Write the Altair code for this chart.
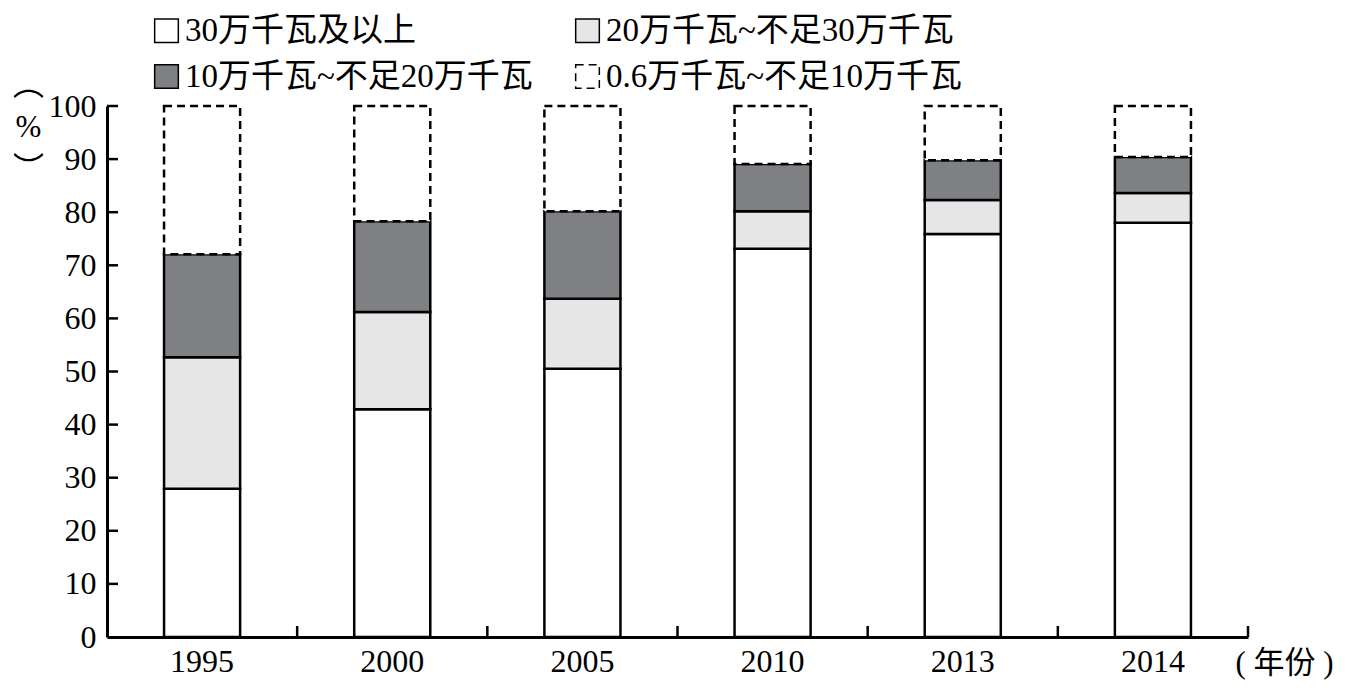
import altair as alt
import pandas as pd

years = ["1995", "2000", "2005", "2010", "2013", "2014"]
cats = ["30万千瓦及以上", "20万千瓦~不足30万千瓦", "10万千瓦~不足20万千瓦", "0.6万千瓦~不足10万千瓦"]
s30 = [27.9, 42.9, 50.5, 73.1, 75.9, 78.0]
s20 = [24.8, 18.3, 13.2, 7.1, 6.4, 5.6]
s10 = [19.4, 17.1, 16.5, 8.9, 7.5, 6.8]
s06 = [27.9, 21.7, 19.8, 10.9, 10.2, 9.6]
y_ticks = [0, 10, 20, 30, 40, 50, 60, 70, 80, 90, 100]
fills = ["#ffffff", "#e6e6e6", "#7f8084", "#ffffff"]
dashes = [[1, 0], [1, 0], [1, 0], [8, 5]]

rows = []
for i, (c, ser) in enumerate(zip(cats, [s30, s20, s10, s06])):
    for y, v in zip(years, ser):
        rows.append({"year": y, "cat": c, "idx": i, "value": v})
df = pd.DataFrame(rows)

# legend order (column-major grid): col1 = 30万 / 10万, col2 = 20万 / 0.6万
leg_order = [0, 2, 1, 3]
leg_dom = [cats[i] for i in leg_order]
leg_fill = [fills[i] for i in leg_order]
leg_dash = [dashes[i] for i in leg_order]

SERIF = "'Liberation Serif', 'Noto Sans CJK SC', serif"

leg = alt.Legend(
    title=None, orient="none", legendX=43, legendY=-92, columns=2,
    columnPadding=38, rowPadding=12, labelOffset=2, labelLimit=600,
    labelFontSize=33, labelFont=SERIF, labelColor="black",
    symbolType="square", symbolSize=560, symbolStrokeWidth=1.5, padding=0,
)

bars = alt.Chart(df).mark_bar(strokeWidth=2.5, width=alt.RelativeBandSize(0.4)).encode(
    x=alt.X("year:N", sort=years, scale=alt.Scale(paddingInner=0, paddingOuter=0),
            axis=alt.Axis(title="( 年份 )", labelAngle=0, tickSize=0, labelPadding=9,
                          labelFontSize=32, labelFont=SERIF, labelColor="black",
                          domainColor="black", domainWidth=3,
                          titleX=1128, titleY=26, titleAlign="left", titleBaseline="middle",
                          titleFontSize=31, titleFont=SERIF, titleFontWeight="normal", titleColor="black")),
    y=alt.Y("value:Q", stack="zero", scale=alt.Scale(domain=[0, 100], nice=False),
            axis=alt.Axis(values=y_ticks, tickSize=0, labelPadding=11, grid=False,
                          labelFontSize=32, labelFont=SERIF, labelColor="black",
                          domainColor="black", domainWidth=3,
                          title=["︵", "%", "︶"], titleAngle=0, titleX=-79, titleY=-36,
                          titleAlign="center", titleBaseline="top", titleLineHeight=42,
                          titleFontSize=31, titleFont=SERIF, titleFontWeight="normal", titleColor="black")),
    fill=alt.Fill("cat:N", scale=alt.Scale(domain=leg_dom, range=leg_fill), legend=leg),
    stroke=alt.Stroke("cat:N", scale=alt.Scale(domain=leg_dom, range=["black"] * 4), legend=leg),
    strokeDash=alt.StrokeDash("cat:N", scale=alt.Scale(domain=leg_dom, range=leg_dash), legend=leg),
    order=alt.Order("idx:Q", sort="ascending"),
)

ytick_df = pd.DataFrame({"t": y_ticks[1:]})
yticks = alt.Chart(ytick_df).mark_rule(color="black", strokeWidth=2.5).encode(
    y=alt.Y("t:Q", axis=None), x=alt.value(0), x2=alt.value(11)
)

xtick_df = pd.DataFrame({"year": years})
xticks = alt.Chart(xtick_df).mark_rule(color="black", strokeWidth=2.5).encode(
    x=alt.X("year:N", sort=years, bandPosition=1, axis=None), y=alt.value(531), y2=alt.value(520)
)

chart = alt.layer(bars, yticks, xticks).resolve_axis(
    x="independent", y="independent"
).properties(
    width=1141, height=531, background="white",
    autosize=alt.AutoSizeParams(type="none"),
    padding={"left": 99, "top": 98, "right": 94, "bottom": 48},
).configure_view(stroke=None)

chart.save("out.html", embed_options={"renderer": "svg", "actions": False})
